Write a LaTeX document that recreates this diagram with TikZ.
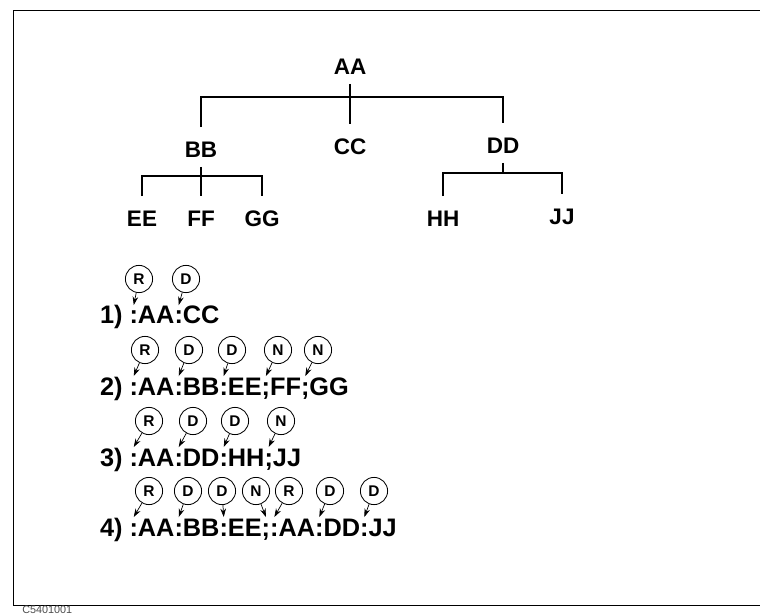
\documentclass[tikz,border=0pt]{standalone}
\usepackage{fontspec}
\usetikzlibrary{positioning,arrows.meta}
\newfontfamily\helvfont{Liberation Sans}
\newcommand{\treefont}{\helvfont\bfseries\fontsize{16}{18}\selectfont}
\newcommand{\cmdfont}{\helvfont\bfseries\fontsize{18}{20}\selectfont}
\newcommand{\flagfont}{\helvfont\bfseries\fontsize{11}{13}\selectfont}
\newcommand{\idfont}{\helvfont\fontsize{7.7}{9}\selectfont}
\begin{document}
\begin{tikzpicture}[x=0.025cm,y=-0.025cm,
  tag/.style={font=\treefont, inner sep=0pt, outer sep=0pt, anchor=base,
    text height=22pt, text depth=6.4pt},
  branch/.style={line width=2pt},
  cmd/.style={font=\cmdfont, inner sep=0pt, outer sep=0pt, anchor=base west},
  delim/.style={cmd, text height=13.5pt},
  flag/.style={circle, draw, line width=0.6pt, minimum size=0.68cm,
    inner sep=0pt, font=\flagfont},
  pointer/.style={-{Stealth[length=6pt,width=4pt]}, line width=0.5pt},
  frame/.style={line width=0.7pt}]
  \useasboundingbox (0,0) rectangle (760,615);%

  % Drawing the frame
  \draw [frame] (760,10) -- (13,10) -- (13,605) -- (760,605);%
  \node [font=\idfont, text=black!70, inner sep=0pt, anchor=north west] (docid) at (22,606) {C5401001};%

  % Tree nodes
  \node [tag] (AA) at (350,75) {AA};%
  \node [tag] (BB) at (201,158) {BB};%
  \node [tag] (CC) at (350,155) {CC};%
  \node [tag] (DD) at (503,154) {DD};%
  \node [tag] (EE) at (142,227) {EE};%
  \node [tag] (FF) at (201,227) {FF};%
  \node [tag] (GG) at (262,227) {GG};%
  \node [tag] (HH) at (443,227) {HH};%
  \node [tag] (JJ) at (562,225) {JJ};%
  \coordinate (aajoin) at (350,97);%
  \coordinate (bbjoin) at (201,176);%
  \coordinate (ddjoin) at (503,173);%

  % Drawing branches of AA
  \draw [branch] (BB.north) |- (aajoin) -| (DD.north);%
  \draw [branch] (AA.south) -- (CC.north);%

  % Drawing branches of BB
  \draw [branch] (EE.north) |- (bbjoin) -| (GG.north);%
  \draw [branch] (BB.south) -- (FF.north);%

  % Drawing branches of DD
  \draw [branch] (HH.north) |- (ddjoin) -| (JJ.north);%
  \draw [branch] (DD.south) -- (ddjoin);%

  % Line 1
  \node [cmd] (n1) at (100,324) {1)};%
  \node [delim, base right=5pt of n1] (s1a) {:};%
  \node [cmd, base right=0pt of s1a] (w1a) {AA};%
  \node [delim, base right=0pt of w1a] (s1b) {:};%
  \node [cmd, base right=0pt of s1b] (w1b) {CC};%
  \node [flag] (r1) at (139,279) {R};%
  \node [flag] (d1) at (186,279) {D};%
  \draw [pointer] (r1) -- (s1a.north);%
  \draw [pointer] (d1) -- (s1b.north);%

  % Line 2
  \node [cmd] (n2) at (100,395) {2)};%
  \node [delim, base right=5pt of n2] (s2a) {:};%
  \node [cmd, base right=0pt of s2a] (w2a) {AA};%
  \node [delim, base right=0pt of w2a] (s2b) {:};%
  \node [cmd, base right=0pt of s2b] (w2b) {BB};%
  \node [delim, base right=0pt of w2b] (s2c) {:};%
  \node [cmd, base right=0pt of s2c] (w2c) {EE};%
  \node [delim, base right=0pt of w2c] (s2d) {;};%
  \node [cmd, base right=0pt of s2d] (w2d) {FF};%
  \node [delim, base right=0pt of w2d] (s2e) {;};%
  \node [cmd, base right=0pt of s2e] (w2e) {GG};%
  \node [flag] (r2) at (145,350) {R};%
  \node [flag] (d2a) at (189,350) {D};%
  \node [flag] (d2b) at (232,350) {D};%
  \node [flag] (n2a) at (278,350) {N};%
  \node [flag] (n2b) at (318,350) {N};%
  \draw [pointer] (r2) -- (s2a.north);%
  \draw [pointer] (d2a) -- (s2b.north);%
  \draw [pointer] (d2b) -- (s2c.north);%
  \draw [pointer] (n2a) -- (s2d.north);%
  \draw [pointer] (n2b) -- (s2e.north);%

  % Line 3
  \node [cmd] (n3) at (100,466) {3)};%
  \node [delim, base right=5pt of n3] (s3a) {:};%
  \node [cmd, base right=0pt of s3a] (w3a) {AA};%
  \node [delim, base right=0pt of w3a] (s3b) {:};%
  \node [cmd, base right=0pt of s3b] (w3b) {DD};%
  \node [delim, base right=0pt of w3b] (s3c) {:};%
  \node [cmd, base right=0pt of s3c] (w3c) {HH};%
  \node [delim, base right=0pt of w3c] (s3d) {;};%
  \node [cmd, base right=0pt of s3d] (w3d) {JJ};%
  \node [flag] (r3) at (149,421) {R};%
  \node [flag] (d3a) at (193,421) {D};%
  \node [flag] (d3b) at (235,421) {D};%
  \node [flag] (n3a) at (281,421) {N};%
  \draw [pointer] (r3) -- (s3a.north);%
  \draw [pointer] (d3a) -- (s3b.north);%
  \draw [pointer] (d3b) -- (s3c.north);%
  \draw [pointer] (n3a) -- (s3d.north);%

  % Line 4
  \node [cmd] (n4) at (100,536) {4)};%
  \node [delim, base right=5pt of n4] (s4a) {:};%
  \node [cmd, base right=0pt of s4a] (w4a) {AA};%
  \node [delim, base right=0pt of w4a] (s4b) {:};%
  \node [cmd, base right=0pt of s4b] (w4b) {BB};%
  \node [delim, base right=0pt of w4b] (s4c) {:};%
  \node [cmd, base right=0pt of s4c] (w4c) {EE};%
  \node [delim, base right=0pt of w4c] (s4d) {;};%
  \node [delim, base right=0pt of s4d] (s4e) {:};%
  \node [cmd, base right=0pt of s4e] (w4d) {AA};%
  \node [delim, base right=0pt of w4d] (s4f) {:};%
  \node [cmd, base right=0pt of s4f] (w4e) {DD};%
  \node [delim, base right=0pt of w4e] (s4g) {:};%
  \node [cmd, base right=0pt of s4g] (w4f) {JJ};%
  \node [flag] (r4a) at (149,491) {R};%
  \node [flag] (d4a) at (188,491) {D};%
  \node [flag] (d4b) at (222,491) {D};%
  \node [flag] (n4a) at (256,491) {N};%
  \node [flag] (r4b) at (289,491) {R};%
  \node [flag] (d4c) at (330,491) {D};%
  \node [flag] (d4d) at (374,491) {D};%
  \draw [pointer] (r4a) -- (s4a.north);%
  \draw [pointer] (d4a) -- (s4b.north);%
  \draw [pointer] (d4b) -- (s4c.north);%
  \draw [pointer] (n4a) -- (s4d.north);%
  \draw [pointer] (r4b) -- (s4e.north);%
  \draw [pointer] (d4c) -- (s4f.north);%
  \draw [pointer] (d4d) -- (s4g.north);%
\end{tikzpicture}
\end{document}
